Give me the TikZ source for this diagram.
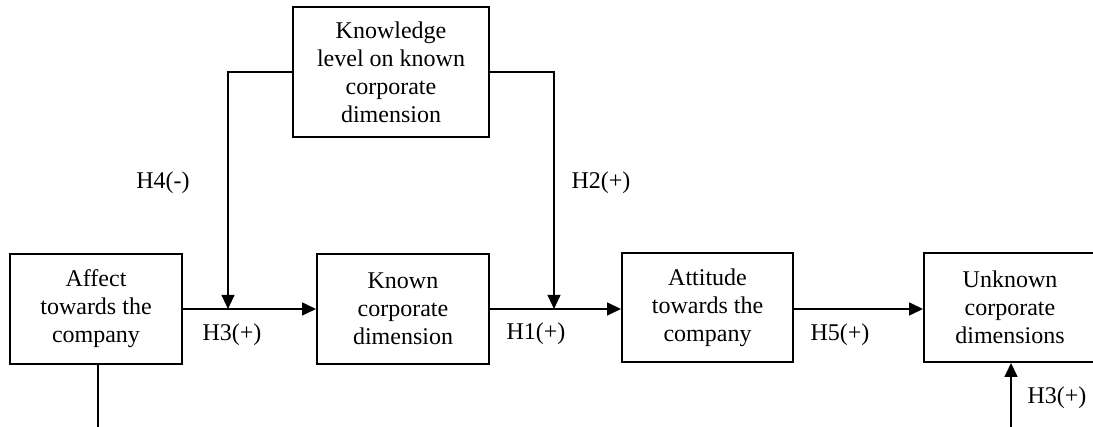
\documentclass[tikz,border=0pt]{standalone}
\usepackage{fontspec}
\setmainfont{Liberation Serif}
\usetikzlibrary{arrows.meta}
\tikzset{
  box/.style={draw, line width=1.35pt, rectangle, align=center, inner sep=0pt,
    minimum width=129pt, minimum height=82.5pt,
    font=\fontsize{18pt}{21pt}\selectfont},
  lbl/.style={inner sep=0pt, font=\fontsize{18pt}{21pt}\selectfont},
  link/.style={line width=1.7pt, -{Triangle[length=10.5pt,width=9.5pt]}},
  feed/.style={line width=1.5pt, -{Triangle[length=10.5pt,width=9.5pt]}},
  plain/.style={line width=1.2pt}
}
\begin{document}
\begin{tikzpicture}[x={(0.75pt,0)}, y={(0,-0.75pt)}]
  \useasboundingbox (0,0) rectangle (1093,427);

  % boxes
  \node[box] (affect) at (96,309) {Affect\\towards the\\company};
  \node[box] (known) at (403,309) {Known\\corporate\\dimension};
  \node[box, minimum width=128.25pt, minimum height=81.75pt] (attitude) at (707.5,307.5) {Attitude\\towards the\\company};
  \node[box, minimum height=81.75pt] (unknown) at (1010,307.5) {Unknown\\corporate\\dimensions};
  \node[box, minimum width=147pt, minimum height=97.5pt] (knowledge) at (391,72) {Knowledge\\level on known\\corporate\\dimension};

  % junction points on the main path and free ends at the lower edge
  \coordinate (j1) at (228,309);
  \coordinate (j2) at (554,309);
  \coordinate (bl) at (98,432);
  \coordinate (br) at (1011,432);

  % main chain
  \draw[link] (affect.east) -- (known.west);
  \draw[link] (known.east) -- (known.east -| attitude.west);
  \draw[link] (attitude.east |- known.east) -- (known.east -| unknown.west);

  % moderating paths from the knowledge level
  \draw[feed] (knowledge.west) -| (j1);
  \draw[feed] (knowledge.east) -| (j2);

  % paths leaving the lower edge
  \draw[plain] (affect.south -| bl) -- (bl);
  \draw[link] (br) -- (unknown.south -| br);

  % hypothesis labels
  \node[lbl] (h4) at (163,183) {H4(-)};
  \node[lbl] (h2) at (601,183) {H2(+)};
  \node[lbl] (h3a) at (232,335) {H3(+)};
  \node[lbl] (h1) at (536,334) {H1(+)};
  \node[lbl] (h5) at (840,335) {H5(+)};
  \node[lbl] (h3b) at (1057,398) {H3(+)};
\end{tikzpicture}
\end{document}
